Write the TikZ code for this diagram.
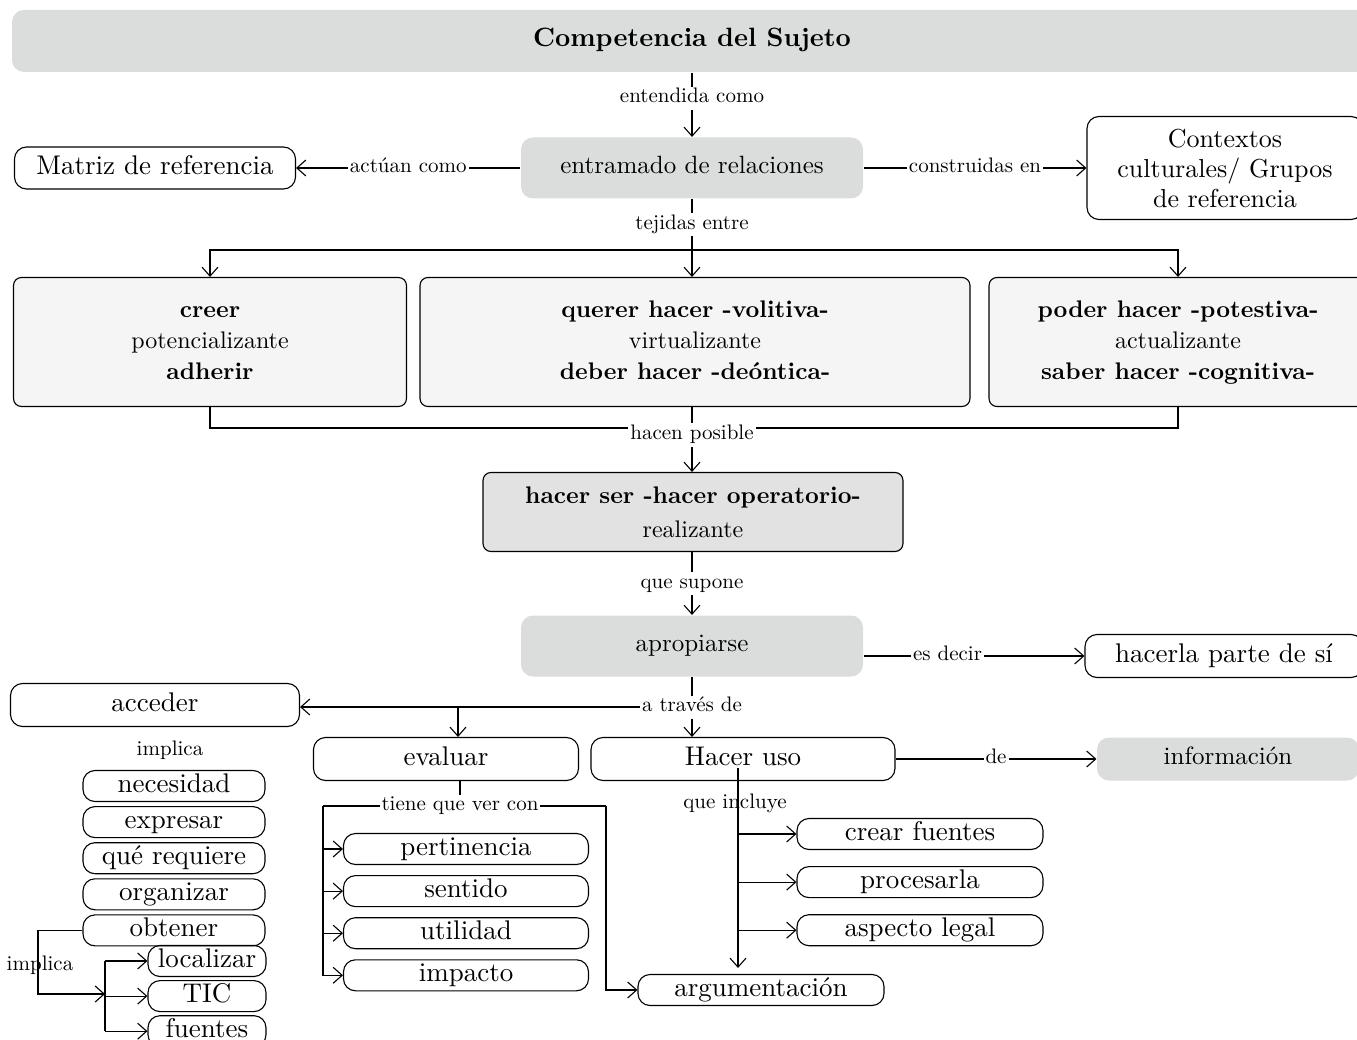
\documentclass[tikz,border=0pt]{standalone}
\usepackage{fontspec}
\setmainfont{lmroman10-regular.otf}[BoldFont=lmroman10-bold.otf]
\usetikzlibrary{arrows.meta, positioning}
\definecolor{bargray}{RGB}{219,220,220}
\definecolor{opgray}{RGB}{226,226,226}
\definecolor{softgray}{RGB}{245,245,245}

\begin{document}
\begin{tikzpicture}[x=1pt, y=-1pt, line width=1.1pt,
    >={Straight Barb[length=9pt, width=16pt]},
    lbl/.style={fill=white, inner sep=2pt, font=\fontsize{21}{24}\selectfont, text height=14pt, text depth=5pt},
    shaded/.style={fill=bargray, rounded corners=12pt, inner sep=0pt, font=\fontsize{25}{28}\selectfont, text height=17pt, text depth=6pt},
    box/.style={draw, rounded corners=12pt, inner sep=0pt},
    plain/.style={box, font=\fontsize{27}{30}\selectfont, text height=19pt, text depth=6pt},
    pill/.style={plain, minimum height=31pt},
    panel/.style={box, fill=softgray, rounded corners=8pt, minimum height=129pt, align=center, font=\fontsize{24}{31}\selectfont}]
    \useasboundingbox (0,0) rectangle (1357,1040);

    \node[shaded, minimum width=1360pt, minimum height=62pt, font=\bfseries\fontsize{26.5}{30}\selectfont] (sujeto) at (692,41) {Competencia del Sujeto};
    \node[shaded, minimum width=342pt, minimum height=61pt] (entramado) at (692,168) {entramado de relaciones};
    \node[plain, minimum width=281pt, minimum height=42pt] (matriz) at (155,168) {Matriz de referencia};
    \node[box, minimum width=276pt, minimum height=103pt, align=center, font=\fontsize{26}{30}\selectfont] (contextos) at (1225,168) {Contextos\\culturales/ Grupos\\de referencia};

    \draw[->] (sujeto) -- node[lbl, pos=.4] {entendida como} (entramado);
    \draw[->] (entramado) -- node[lbl] {actúan como} (matriz);
    \draw[->] (entramado) -- node[lbl] {construidas en} (contextos);

    \node[panel, minimum width=393pt] (creer) at (210,342) {\strut\textbf{creer}\\potencializante\\\textbf{adherir}\strut};
    \node[panel, minimum width=550pt] (querer) at (695,342) {\strut\textbf{querer hacer -volitiva-}\\virtualizante\\\textbf{deber hacer -deóntica-}\strut};
    \node[panel, minimum width=378pt] (saber) at (1178,342) {\strut\textbf{poder hacer -potestiva-}\\actualizante\\\textbf{saber hacer -cognitiva-}\strut};

    \coordinate (fork) at (692,250);
    \draw (entramado) -- node[lbl] {tejidas entre} (fork);
    \draw[->] (fork) -| (creer);
    \draw[->] (fork) -| (saber);
    \draw[->] (fork) -- (fork |- querer.north);

    \node[box, fill=opgray, rounded corners=8pt, minimum width=420pt, minimum height=79pt, align=center, font=\fontsize{24}{34}\selectfont] (hacerser) at (693,512) {\textbf{hacer ser -hacer operatorio-}\\realizante};
    \node[lbl] (posible) at (692,435) {hacen posible};
    \draw (creer) |- ([yshift=7pt]posible.west);
    \draw (saber) |- ([yshift=7pt]posible.east);
    \draw (querer.south -| posible) -- (posible);
    \draw[->] (posible) -- (posible |- hacerser.north);

    \node[shaded, minimum width=342pt, minimum height=61pt] (apropiarse) at (692,646) {apropiarse};
    \draw[->] (hacerser.south -| apropiarse) -- node[lbl] {que supone} (apropiarse);

    \node[plain, minimum width=278pt, minimum height=43pt] (hacerla) at (1224,656) {hacerla parte de sí};
    \draw[->] (apropiarse.east |- hacerla) -- node[lbl, pos=.38] {es decir} (hacerla);

    \node[plain, minimum width=289pt, minimum height=43pt] (acceder) at (155,705) {acceder};
    \node[plain, minimum width=265pt, minimum height=43pt] (evaluar) at (446,759) {evaluar};
    \node[plain, minimum width=304pt, minimum height=43pt] (husos) at (743,759) {Hacer uso};
    \node[shaded, minimum width=262pt, minimum height=43pt] (informacion) at (1228,759) {información};

    \draw[->] (apropiarse) -- node[lbl] (atraves) {a través de} (apropiarse |- husos.north);
    \draw[->] (atraves) -- (atraves -| acceder.east);
    \coordinate (evsplit) at (458,707);
    \draw[->] (evsplit) -- (evsplit |- evaluar.north);
    \draw[->] (husos) -- node[lbl] {de} (informacion);

    \node[lbl, inner sep=1pt] (tiene) at (460,806) {tiene que ver con};
    \coordinate (evl) at (323,806);
    \coordinate (evr) at (606,806);
    \draw (evaluar.south -| tiene) -- (tiene);
    \draw (tiene) -- (evl);
    \draw (tiene) -- (evr);
    \node[pill, minimum width=245pt] (pertinencia) at (466,849) {pertinencia};
    \node[pill, minimum width=245pt, below=10pt of pertinencia] (sentido) {sentido};
    \node[pill, minimum width=245pt, below=10pt of sentido] (utilidad) {utilidad};
    \node[pill, minimum width=245pt, below=10pt of utilidad] (impacto) {impacto};
    \foreach \n in {pertinencia, sentido, utilidad, impacto}
        \draw[->] (evl) |- (\n);

    \node[pill, minimum width=246pt] (argumentacion) at (761,990) {argumentación};
    \draw[->] (evr) |- (argumentacion);

    \node[pill, minimum width=246pt] (crear) at (920,834) {crear fuentes};
    \node[pill, minimum width=246pt, below=16pt of crear] (procesarla) {procesarla};
    \node[pill, minimum width=246pt, below=16pt of procesarla] (legal) {aspecto legal};
    \coordinate (inc) at (738,768);
    \node[lbl, fill=none] (incluye) at (735,804) {que incluye};
    \draw[->, shorten >=6pt] (inc) -- (inc |- argumentacion.north);
    \foreach \n in {crear, procesarla, legal}
        \draw[->] (inc |- \n) -- (\n);

    \node[lbl, fill=none] (implica) at (170,751) {implica};
    \node[pill, minimum width=182pt] (necesidad) at (174,786) {necesidad};
    \node[pill, minimum width=182pt, below=4pt of necesidad] (expresar) {expresar};
    \node[pill, minimum width=182pt, below=4pt of expresar] (requiere) {qué requiere};
    \node[pill, minimum width=182pt, below=4pt of requiere] (organizar) {organizar};
    \node[pill, minimum width=182pt, below=4pt of organizar] (obtener) {obtener};
    \node[pill, minimum width=118pt] (localizar) at (207,961) {localizar};
    \node[pill, minimum width=118pt, below=3pt of localizar] (TIC) {TIC};
    \node[pill, minimum width=118pt, below=3pt of TIC] (fuentes) {fuentes};

    \coordinate (obl) at (38,994);
    \coordinate (ob) at (105,994);
    \node[lbl, fill=none] (implicados) at (40,966) {implica};
    \draw[->] (obtener) -| (obl) -- (ob);
    \draw (ob |- localizar) -- (ob |- fuentes);
    \foreach \n in {localizar, TIC, fuentes}
        \draw[->] (ob |- \n) -- (\n);
\end{tikzpicture}
\end{document}
